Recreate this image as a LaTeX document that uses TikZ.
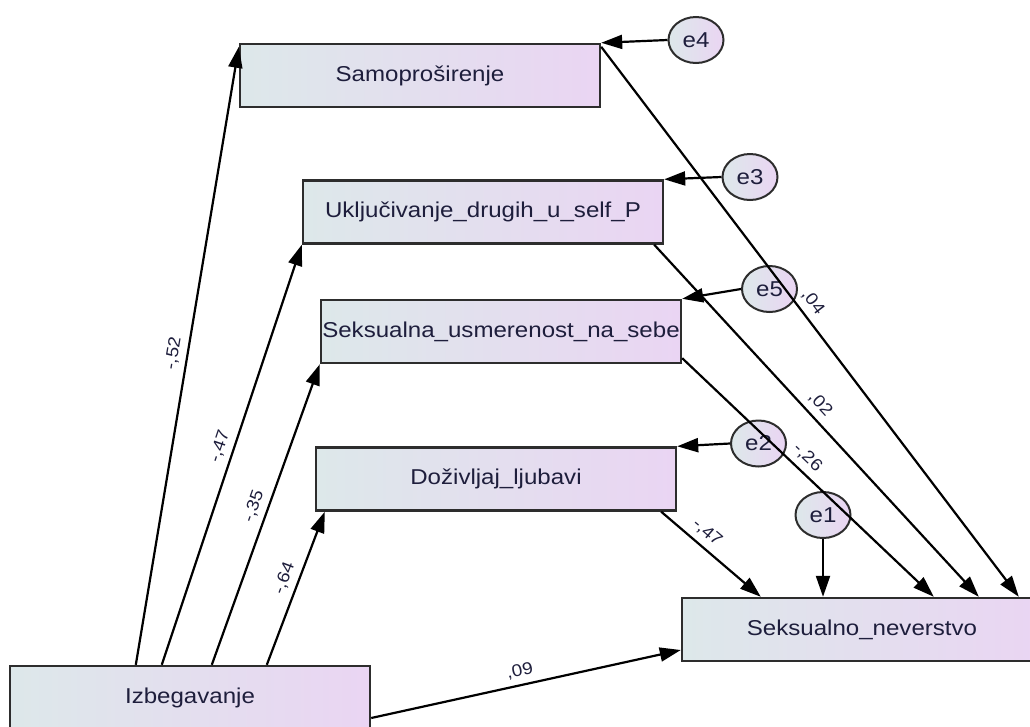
\documentclass[tikz,border=0pt]{standalone}
\usepackage{fontspec}
\setmainfont[FakeStretch=1.12]{Liberation Sans}
\usetikzlibrary{arrows.meta,shapes.geometric}
\definecolor{lft}{RGB}{221,232,234}
\definecolor{rgt}{RGB}{234,213,243}
\definecolor{txt}{RGB}{30,30,60}
\definecolor{brd}{RGB}{45,45,45}
\tikzset{
  var/.style={draw=brd, line width=2.4pt, left color=lft, right color=rgt, minimum width=360pt, minimum height=63pt, inner sep=0pt, text=txt, font=\fontsize{21.5}{25}\selectfont},
  err/.style={ellipse, draw=brd, line width=2pt, left color=lft, right color=rgt, minimum width=55pt, minimum height=46pt, inner sep=0pt, text=txt, font=\fontsize{21.5}{25}\selectfont},
  path/.style={draw=black, line width=2.2pt, -{Triangle[length=21pt,width=14pt]}},
  coef/.style={sloped, above=5pt, inner sep=1pt, text=txt, font=\fontsize{17}{19}\selectfont}
}
\begin{document}
\begin{tikzpicture}[x=1pt,y=-1pt]
\useasboundingbox (0,0) rectangle (1030,726);
% observed variables
\node[var] (samo)  at (420,75.5)  {Samoproširenje};
\node[var] (uklj)  at (483,212)   {Uključivanje\_drugih\_u\_self\_P};
\node[var] (seks)  at (501,331.5) {Seksualna\_usmerenost\_na\_sebe};
\node[var] (doz)   at (496,479)   {Doživljaj\_ljubavi};
\node[var] (never) at (862,629.5) {Seksualno\_neverstvo};
\node[var] (izb)   at (190,697.5) {Izbegavanje};
% error terms
\node[err] (e4) at (696,40)    {e4};
\node[err] (e3) at (750,177)   {e3};
\node[err] (e5) at (769.5,289) {e5};
\node[err] (e2) at (758.5,443.5) {e2};
\node[err] (e1) at (823,515)   {e1};
% paths from Izbegavanje
\draw[path] ([xshift=127pt]izb.north west) -- node[coef,pos=0.5]{-,52} ([yshift=-4pt]samo.north west);
\draw[path] ([xshift=153pt]izb.north west) -- node[coef,pos=0.51]{-,47} (uklj.south west);
\draw[path] ([xshift=203pt]izb.north west) -- node[coef,pos=0.51]{-,35} (seks.south west);
\draw[path] ([xshift=258pt]izb.north west) -- node[coef,pos=0.53]{-,64} ([xshift=10pt]doz.south west);
\draw[path] ([yshift=-20.5pt]izb.east) -- node[coef,pos=0.49]{,09} ([yshift=-20.5pt]never.west);
% paths to Seksualno_neverstvo
\draw[path] ([yshift=-4pt]samo.north east) -- node[coef,pos=0.48]{,04} ([xshift=338pt]never.north west);
\draw[path] ([xshift=-10pt]uklj.south east) -- node[coef,pos=0.48]{,02} ([xshift=298pt]never.north west);
\draw[path] ([yshift=6pt]seks.south east) -- node[coef,pos=0.46]{-,26} ([xshift=253pt]never.north west);
\draw[path] ([xshift=-16pt]doz.south east) -- node[coef,pos=0.37]{-,47} ([xshift=80pt]never.north west);
% error paths
\draw[path] (e1.south) -- (e1.south |- never.north);
\draw[path] (e4.west) -- (samo.north east);
\draw[path] (e3.west) -- (uklj.north east);
\draw[path] (e5.west) -- (seks.north east);
\draw[path] (e2.west) -- (doz.north east);
\end{tikzpicture}
\end{document}
